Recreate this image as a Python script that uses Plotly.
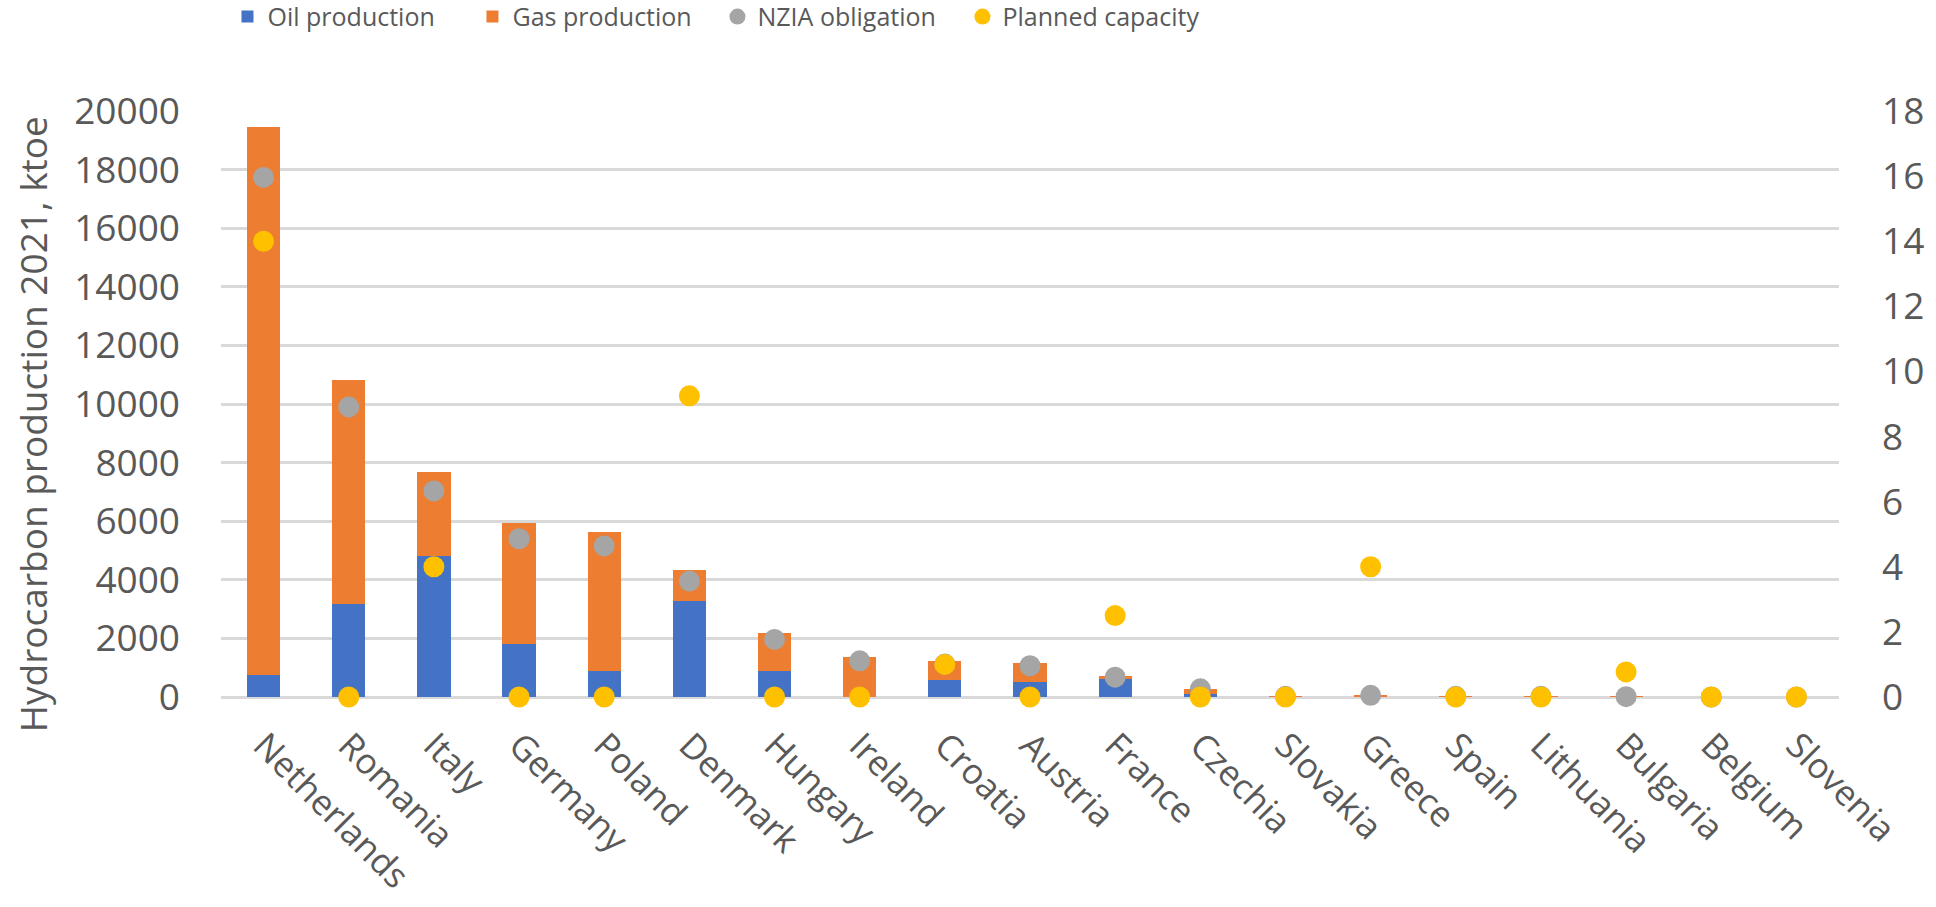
import plotly.graph_objects as go

countries = ["Netherlands", "Romania", "Italy", "Germany", "Poland", "Denmark",
             "Hungary", "Ireland", "Croatia", "Austria", "France", "Czechia",
             "Slovakia", "Greece", "Spain", "Lithuania", "Bulgaria", "Belgium",
             "Slovenia"]

# Hydrocarbon production 2021, ktoe
oil_production = [740, 3190, 4810, 1820, 880, 3260, 880, 0, 580, 510, 630, 90,
                  5, 10, 10, 10, 0, 0, 0]
gas_production = [18710, 7640, 2855, 4120, 4755, 1073, 1310, 1350, 660, 655, 70, 180,
                  10, 50, 5, 5, 5, 0, 0]

# Storage figures on the secondary axis
nzia_obligation = [15.96, 8.91, 6.33, 4.86, 4.64, 3.56, 1.77, 1.11, 1.01, 0.96, 0.61,
                   0.25, 0.02, 0.05, 0.02, 0.02, 0.01, 0, 0]
planned_capacity = [14.0, 0, 4.0, 0, 0, 9.25, 0, 0, 1.0, 0, 2.5, 0, 0, 4.0, 0, 0,
                    0.77, 0, 0]

left_ticks = list(range(0, 20001, 2000))
right_ticks = list(range(0, 19, 2))

FONT = "Open Sans"
TXT = "#595959"
GRID = "#D9D9D9"

fig = go.Figure()
fig.add_trace(go.Bar(x=countries, y=oil_production, name="Oil production",
                     marker=dict(color="#4472C4", line=dict(width=0))))
fig.add_trace(go.Bar(x=countries, y=gas_production, name="Gas production",
                     marker=dict(color="#ED7D31", line=dict(width=0))))
fig.add_trace(go.Scatter(x=countries, y=nzia_obligation, name="NZIA obligation",
                         mode="markers", yaxis="y2", cliponaxis=False,
                         marker=dict(color="#A5A5A5", size=21)))
fig.add_trace(go.Scatter(x=countries, y=planned_capacity, name="Planned capacity",
                         mode="markers", yaxis="y2", cliponaxis=False,
                         marker=dict(color="#FFC000", size=21)))

fig.update_layout(
    width=1936, height=907,
    margin=dict(l=221, r=97, t=111, b=210, autoexpand=False),
    paper_bgcolor="white", plot_bgcolor="white",
    barmode="stack", bargap=0.61,
    font=dict(family=FONT, size=34, color=TXT),
    showlegend=True,
    legend=dict(orientation="h", traceorder="normal", x=0.004, xanchor="left",
                y=1.20, yanchor="top", font=dict(size=25, color=TXT),
                itemwidth=30, entrywidth=200, entrywidthmode="pixels",
                bgcolor="rgba(0,0,0,0)"),
    xaxis=dict(range=[-0.5, len(countries) - 0.5], tickangle=45, showgrid=False,
               showline=False, zeroline=False, ticks="",
               tickfont=dict(size=35, color=TXT), automargin=False,
               ticklabelstandoff=20),
    yaxis=dict(range=[0, 20000], tickvals=left_ticks, tickformat="d",
               showgrid=True, gridcolor=GRID, gridwidth=3, zeroline=True,
               zerolinecolor=GRID, zerolinewidth=3, showline=False, ticks="",
               tickfont=dict(size=37, color=TXT), ticklabelstandoff=40,
               automargin=False),
    yaxis2=dict(range=[0, 18], tickvals=right_ticks, tickformat="d",
                overlaying="y", side="right", showgrid=False, zeroline=False,
                showline=False, ticks="", tickfont=dict(size=37, color=TXT),
                ticklabelstandoff=42, automargin=False),
    annotations=[dict(text="Hydrocarbon production 2021, ktoe", textangle=-90,
                      xref="paper", yref="paper", x=-0.116, y=0.466,
                      xanchor="center", yanchor="middle", showarrow=False,
                      font=dict(size=37, color=TXT))],
)

fig.write_html("out.html")
